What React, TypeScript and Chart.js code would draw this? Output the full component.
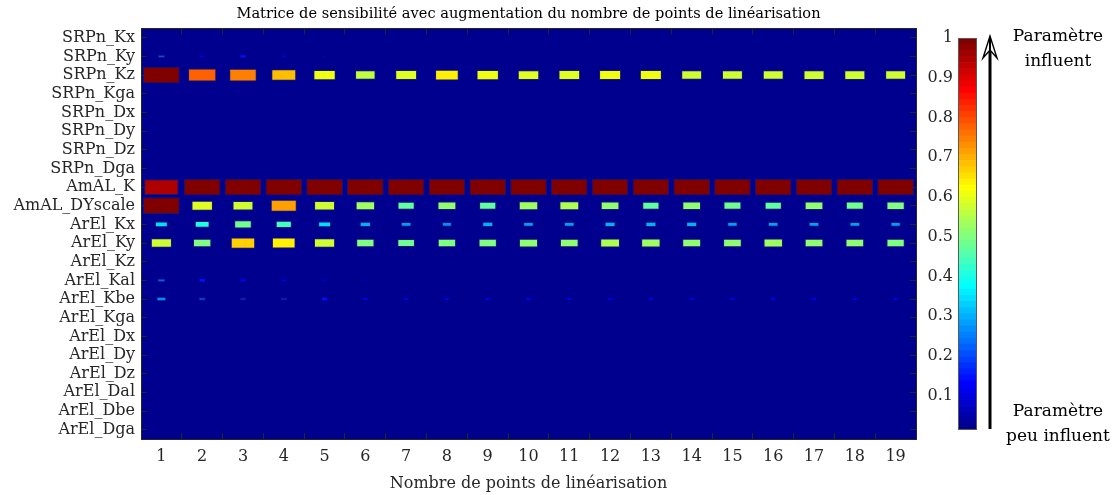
import React, { useEffect, useRef } from 'react';
import { Chart, registerables } from 'chart.js';

Chart.register(...registerables);

// ---------- data ----------
const rowLabels = [
  'SRPn_Kx', 'SRPn_Ky', 'SRPn_Kz', 'SRPn_Kga', 'SRPn_Dx', 'SRPn_Dy', 'SRPn_Dz', 'SRPn_Dga',
  'AmAL_K', 'AmAL_DYscale',
  'ArEl_Kx', 'ArEl_Ky', 'ArEl_Kz', 'ArEl_Kal', 'ArEl_Kbe', 'ArEl_Kga',
  'ArEl_Dx', 'ArEl_Dy', 'ArEl_Dz', 'ArEl_Dal', 'ArEl_Dbe', 'ArEl_Dga',
];
const colLabels = [1, 2, 3, 4, 5, 6, 7, 8, 9, 10, 11, 12, 13, 14, 15, 16, 17, 18, 19];
const colorbarTicks = [0.1, 0.2, 0.3, 0.4, 0.5, 0.6, 0.7, 0.8, 0.9, 1];

const srpnKx = [0, 0, 0, 0, 0, 0, 0, 0, 0, 0, 0, 0, 0, 0, 0, 0, 0, 0, 0];
const srpnKy = [0.2, 0.11, 0.14, 0.1, 0.07, 0.06, 0.05, 0.045, 0.04, 0.035, 0.035, 0.035, 0.035, 0.035, 0.03, 0.03, 0.03, 0.03, 0.03];
const srpnKz = [1.0, 0.77, 0.75, 0.68, 0.61, 0.56, 0.595, 0.645, 0.61, 0.585, 0.59, 0.6, 0.6, 0.57, 0.57, 0.57, 0.575, 0.575, 0.57];
const srpnKga = [0, 0, 0, 0, 0, 0, 0, 0, 0, 0, 0, 0, 0, 0, 0, 0, 0, 0, 0];
const srpnDx = [0, 0, 0, 0, 0, 0, 0, 0, 0, 0, 0, 0, 0, 0, 0, 0, 0, 0, 0];
const srpnDy = [0, 0, 0, 0, 0, 0, 0, 0, 0, 0, 0, 0, 0, 0, 0, 0, 0, 0, 0];
const srpnDz = [0.05, 0.04, 0.035, 0.035, 0.03, 0.03, 0.035, 0.05, 0.04, 0.04, 0.035, 0.035, 0.03, 0.03, 0.035, 0.03, 0.03, 0.03, 0.03];
const srpnDga = [0, 0, 0, 0, 0, 0, 0, 0, 0, 0, 0, 0, 0, 0, 0, 0, 0, 0, 0];
const amalK = [0.94, 1, 1, 1, 1, 1, 1, 1, 1, 1, 1, 1, 1, 1, 1, 1, 1, 1, 1];
const amalDYscale = [1.0, 0.585, 0.57, 0.71, 0.57, 0.53, 0.47, 0.515, 0.47, 0.53, 0.54, 0.51, 0.47, 0.51, 0.49, 0.47, 0.51, 0.49, 0.5];
const arelKx = [0.35, 0.405, 0.48, 0.44, 0.35, 0.305, 0.29, 0.27, 0.3, 0.29, 0.29, 0.3, 0.3, 0.3, 0.285, 0.29, 0.29, 0.29, 0.28];
const arelKy = [0.575, 0.5, 0.665, 0.645, 0.575, 0.5, 0.48, 0.5, 0.5, 0.52, 0.51, 0.54, 0.53, 0.515, 0.51, 0.53, 0.51, 0.51, 0.5];
const arelKz = [0.03, 0.03, 0.035, 0.035, 0.03, 0.03, 0.03, 0.03, 0.03, 0.03, 0.03, 0.03, 0.03, 0.03, 0.03, 0.035, 0.035, 0.03, 0.03];
const arelKal = [0.22, 0.15, 0.13, 0.11, 0.09, 0.07, 0.06, 0.055, 0.05, 0.05, 0.05, 0.05, 0.05, 0.045, 0.045, 0.045, 0.045, 0.045, 0.045];
const arelKbe = [0.265, 0.2, 0.18, 0.175, 0.14, 0.12, 0.11, 0.11, 0.11, 0.11, 0.11, 0.11, 0.11, 0.11, 0.11, 0.11, 0.11, 0.11, 0.11];
const arelKga = [0, 0, 0, 0, 0, 0, 0, 0, 0, 0, 0, 0, 0, 0, 0, 0, 0, 0, 0];
const arelDx = [0, 0, 0.03, 0.03, 0, 0, 0, 0, 0.03, 0.03, 0.03, 0.03, 0, 0, 0, 0, 0, 0, 0];
const arelDy = [0, 0, 0, 0, 0, 0, 0, 0, 0, 0, 0, 0, 0, 0, 0, 0, 0, 0, 0];
const arelDz = [0, 0, 0, 0, 0, 0, 0, 0, 0, 0, 0, 0, 0, 0, 0, 0.03, 0.03, 0, 0];
const arelDal = [0, 0, 0, 0, 0, 0, 0, 0, 0, 0, 0, 0, 0, 0, 0, 0, 0, 0, 0];
const arelDbe = [0, 0, 0, 0, 0, 0, 0, 0, 0, 0, 0, 0, 0, 0, 0, 0, 0, 0, 0];
const arelDga = [0, 0, 0, 0, 0, 0, 0, 0, 0, 0, 0, 0, 0, 0, 0, 0, 0, 0, 0];

const rows = [
  srpnKx, srpnKy, srpnKz, srpnKga, srpnDx, srpnDy, srpnDz, srpnDga,
  amalK, amalDYscale,
  arelKx, arelKy, arelKz, arelKal, arelKbe, arelKga,
  arelDx, arelDy, arelDz, arelDal, arelDbe, arelDga,
];

const TITLE = 'Matrice de sensibilité avec augmentation du nombre de points de linéarisation';
const XTITLE = 'Nombre de points de linéarisation';

// ---------- colormap (MATLAB jet, 64 levels) ----------
const CMIN = 0.014;
const CMAX = 1;
const NLEV = 64;
function u(k: number) {
  if (k < 1 || k > 47) return 0;
  if (k <= 16) return k / 16;
  if (k <= 31) return 1;
  return (48 - k) / 16;
}
function jet(i: number) {
  const r = Math.round(u(i - 24) * 255);
  const g = Math.round(u(i - 8) * 255);
  const b = Math.round(u(i + 8) * 255);
  return `rgb(${r},${g},${b})`;
}
function colorFor(v: number) {
  let idx = Math.floor(((v - CMIN) / (CMAX - CMIN)) * NLEV) + 1;
  idx = Math.max(1, Math.min(NLEV, idx));
  return jet(idx);
}

const FONT = "'DejaVu Serif', serif";
const AX = '#262626';

export default function App() {
  const mainRef = useRef<HTMLCanvasElement | null>(null);
  const cbRef = useRef<HTMLCanvasElement | null>(null);

  useEffect(() => {
    const datasets: any[] = [];
    rows.forEach((vals, r) => {
      vals.forEach((v, c) => {
        if (!(v > 0)) return;
        const y = r + 1;
        const half = 0.45 * v;
        datasets.push({
          type: 'bar',
          label: `${rowLabels[r]} / ${colLabels[c]}`,
          data: [{ x: colLabels[c], y: [y - half, y + half] }],
          backgroundColor: colorFor(v),
          borderColor: 'rgba(45,45,85,0.5)',
          borderWidth: v > 0.16 ? 1 : 0,
          borderSkipped: false,
          grouped: false,
          categoryPercentage: 1,
          barPercentage: 0.9 * v,
        });
      });
    });

    const xTicks = (s: any) => {
      s.ticks = colLabels.map((v) => ({ value: v }));
    };
    const yTicks = (s: any) => {
      s.ticks = rowLabels.map((_, i) => ({ value: i + 1 }));
    };
    const gridOpts = { drawOnChartArea: false, drawTicks: true, tickLength: -6, color: AX, lineWidth: 1 };
    const borderOpts = { display: true, color: AX, width: 1 };

    const bgPlugin = {
      id: 'bg',
      beforeDraw(chart: any) {
        const { ctx, chartArea } = chart;
        ctx.save();
        ctx.fillStyle = jet(1);
        ctx.fillRect(chartArea.left, chartArea.top, chartArea.right - chartArea.left, chartArea.bottom - chartArea.top);
        ctx.restore();
      },
    };

    const main = new Chart(mainRef.current as HTMLCanvasElement, {
      type: 'bar',
      data: { datasets },
      plugins: [bgPlugin],
      options: {
        animation: false,
        responsive: false,
        maintainAspectRatio: false,
        layout: { padding: 0 },
        plugins: {
          legend: { display: false },
          tooltip: { enabled: false },
          title: {
            display: true,
            text: TITLE,
            color: '#000',
            font: { family: FONT, size: 14.6, weight: 'normal' },
            padding: { top: 5.6, bottom: 5.3 },
          },
        },
        scales: {
          x: {
            type: 'linear',
            position: 'bottom',
            min: 0.5,
            max: 19.5,
            offset: false,
            afterBuildTicks: xTicks,
            afterFit: (s: any) => { s.height = 56; },
            ticks: {
              autoSkip: false,
              maxRotation: 0,
              padding: 14.4,
              color: AX,
              font: { family: FONT, size: 16 },
              callback: (v: any) => String(v),
            },
            grid: gridOpts,
            border: borderOpts,
            title: {
              display: true,
              text: XTITLE,
              color: AX,
              font: { family: FONT, size: 16 },
              padding: { top: 0, bottom: 1.4 },
            },
          },
          x2: {
            type: 'linear',
            position: 'top',
            min: 0.5,
            max: 19.5,
            offset: false,
            afterBuildTicks: xTicks,
            afterFit: (s: any) => { s.height = 0; },
            ticks: { display: false },
            grid: gridOpts,
            border: borderOpts,
          },
          y: {
            type: 'linear',
            position: 'left',
            reverse: true,
            min: 0.5,
            max: 22.5,
            afterBuildTicks: yTicks,
            afterFit: (s: any) => { s.width = 141; },
            ticks: {
              autoSkip: false,
              padding: 12,
              color: AX,
              font: { family: FONT, size: 16 },
              callback: (v: any) => rowLabels[Math.round(v) - 1] ?? '',
            },
            grid: gridOpts,
            border: borderOpts,
          },
          y2: {
            type: 'linear',
            position: 'right',
            reverse: true,
            min: 0.5,
            max: 22.5,
            afterBuildTicks: yTicks,
            afterFit: (s: any) => { s.width = 141; },
            ticks: { display: false },
            grid: gridOpts,
            border: borderOpts,
          },
        },
      } as any,
    });

    // ---------- colorbar ----------
    const step = (CMAX - CMIN) / NLEV;
    const cbDatasets = Array.from({ length: NLEV }, (_, i) => ({
      label: `c${i}`,
      data: [[CMIN + i * step, CMIN + (i + 1) * step]],
      backgroundColor: jet(i + 1),
      borderWidth: 0,
      grouped: false,
      barPercentage: 1,
      categoryPercentage: 1,
    }));

    const cbDecor = {
      id: 'cbDecor',
      afterDraw(chart: any) {
        const { ctx, chartArea } = chart;
        ctx.save();
        ctx.strokeStyle = '#5a5a5a';
        ctx.lineWidth = 1;
        ctx.strokeRect(
          Math.round(chartArea.left) + 0.5,
          Math.round(chartArea.top) + 0.5,
          Math.round(chartArea.right - chartArea.left) - 1,
          Math.round(chartArea.bottom - chartArea.top) - 1,
        );
        // arrow
        const ax = 90;
        const tipY = 36;
        const baseY = 58;
        const notchY = 50;
        const botY = 429;
        ctx.strokeStyle = '#000';
        ctx.lineWidth = 3;
        ctx.beginPath();
        ctx.moveTo(ax, notchY);
        ctx.lineTo(ax, botY);
        ctx.stroke();
        ctx.lineWidth = 1.4;
        ctx.fillStyle = '#fff';
        ctx.beginPath();
        ctx.moveTo(ax, tipY);
        ctx.lineTo(ax - 7, baseY);
        ctx.lineTo(ax, notchY);
        ctx.lineTo(ax + 7, baseY);
        ctx.closePath();
        ctx.fill();
        ctx.stroke();
        ctx.lineWidth = 2;
        ctx.beginPath();
        ctx.moveTo(ax, tipY + 2);
        ctx.lineTo(ax, notchY);
        ctx.stroke();
        ctx.restore();
      },
    };

    const cb = new Chart(cbRef.current as HTMLCanvasElement, {
      type: 'bar',
      data: { labels: [''], datasets: cbDatasets },
      plugins: [cbDecor],
      options: {
        animation: false,
        responsive: false,
        maintainAspectRatio: false,
        layout: { padding: { left: 0, right: 135, top: 38, bottom: 65 } },
        plugins: { legend: { display: false }, tooltip: { enabled: false } },
        scales: {
          x: { type: 'category', display: false },
          y: {
            type: 'linear',
            position: 'left',
            min: CMIN,
            max: CMAX,
            afterBuildTicks: (s: any) => { s.ticks = colorbarTicks.map((v) => ({ value: v })); },
            afterFit: (s: any) => { s.width = 58; },
            ticks: {
              padding: 5,
              color: AX,
              font: { family: FONT, size: 16 },
              callback: (v: any) => (Math.abs(v - 1) < 1e-9 ? '1' : Number(v).toFixed(1)),
            },
            grid: { display: true, drawOnChartArea: false, drawTicks: false },
            border: { display: false },
          },
        },
      } as any,
    });

    return () => {
      main.destroy();
      cb.destroy();
    };
  }, []);

  const noteStyle: React.CSSProperties = {
    position: 'absolute',
    left: 1003,
    width: 110,
    textAlign: 'center',
    fontFamily: FONT,
    fontSize: 17,
    lineHeight: '25px',
    color: '#000',
    whiteSpace: 'nowrap',
  };

  return (
    <div style={{ position: 'absolute', left: 0, top: 0, width: 1112, height: 495, background: '#fff', overflow: 'hidden' }}>
      <canvas ref={mainRef} width={1057} height={495} style={{ position: 'absolute', left: 0, top: 0, width: 1057, height: 495 }} />
      <canvas ref={cbRef} width={212} height={495} style={{ position: 'absolute', left: 900, top: 0, width: 212, height: 495 }} />
      <div style={{ ...noteStyle, top: 22.5 }}>
        Paramètre<br />influent
      </div>
      <div style={{ ...noteStyle, top: 397.5 }}>
        Paramètre<br />peu influent
      </div>
    </div>
  );
}
